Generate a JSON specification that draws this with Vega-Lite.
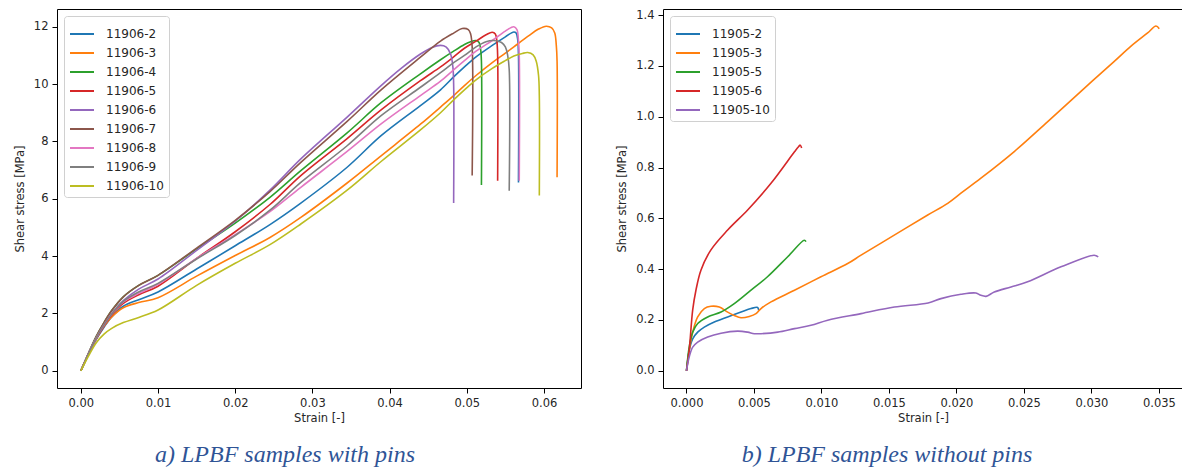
{
  "$schema": "https://vega.github.io/schema/vega-lite/v6.json",
  "padding": {"left": 13, "top": 8, "right": 0, "bottom": 0},
  "background": "white",
  "spacing": 82,
  "bounds": "flush",
  "datasets": {
    "left": [
      {"s":"11906-2","i":0,"x":0,"y":0},{"s":"11906-2","i":1,"x":0.001,"y":0.57},{"s":"11906-2","i":2,"x":0.002,"y":1.1},{"s":"11906-2","i":3,"x":0.003,"y":1.52},{"s":"11906-2","i":4,"x":0.004,"y":1.88},{"s":"11906-2","i":5,"x":0.0055,"y":2.25},{"s":"11906-2","i":6,"x":0.0075,"y":2.48},{"s":"11906-2","i":7,"x":0.01,"y":2.75},{"s":"11906-2","i":8,"x":0.015,"y":3.55},{"s":"11906-2","i":9,"x":0.02,"y":4.36},{"s":"11906-2","i":10,"x":0.0245,"y":5.1},{"s":"11906-2","i":11,"x":0.0285,"y":5.85},{"s":"11906-2","i":12,"x":0.0345,"y":7.1},{"s":"11906-2","i":13,"x":0.0389,"y":8.2},{"s":"11906-2","i":14,"x":0.044,"y":9.25},{"s":"11906-2","i":15,"x":0.0466,"y":9.8},{"s":"11906-2","i":16,"x":0.0483,"y":10.25},{"s":"11906-2","i":17,"x":0.0497,"y":10.6},{"s":"11906-2","i":18,"x":0.0512,"y":10.95},{"s":"11906-2","i":19,"x":0.0533,"y":11.35},{"s":"11906-2","i":20,"x":0.055,"y":11.65},{"s":"11906-2","i":21,"x":0.0561,"y":11.82},{"s":"11906-2","i":22,"x":0.0564,"y":11.78},{"s":"11906-2","i":23,"x":0.0566,"y":11.55},{"s":"11906-2","i":24,"x":0.0567,"y":11.0},{"s":"11906-2","i":25,"x":0.0567,"y":6.57},
      {"s":"11906-3","i":0,"x":0,"y":0},{"s":"11906-3","i":1,"x":0.001,"y":0.58},{"s":"11906-3","i":2,"x":0.002,"y":1.12},{"s":"11906-3","i":3,"x":0.003,"y":1.55},{"s":"11906-3","i":4,"x":0.004,"y":1.88},{"s":"11906-3","i":5,"x":0.0055,"y":2.2},{"s":"11906-3","i":6,"x":0.0075,"y":2.38},{"s":"11906-3","i":7,"x":0.01,"y":2.55},{"s":"11906-3","i":8,"x":0.015,"y":3.3},{"s":"11906-3","i":9,"x":0.02,"y":4.02},{"s":"11906-3","i":10,"x":0.0245,"y":4.65},{"s":"11906-3","i":11,"x":0.0285,"y":5.35},{"s":"11906-3","i":12,"x":0.0345,"y":6.55},{"s":"11906-3","i":13,"x":0.0389,"y":7.5},{"s":"11906-3","i":14,"x":0.044,"y":8.6},{"s":"11906-3","i":15,"x":0.0466,"y":9.2},{"s":"11906-3","i":16,"x":0.0483,"y":9.6},{"s":"11906-3","i":17,"x":0.0497,"y":9.95},{"s":"11906-3","i":18,"x":0.0512,"y":10.3},{"s":"11906-3","i":19,"x":0.0533,"y":10.75},{"s":"11906-3","i":20,"x":0.055,"y":11.08},{"s":"11906-3","i":21,"x":0.0561,"y":11.3},{"s":"11906-3","i":22,"x":0.058,"y":11.68},{"s":"11906-3","i":23,"x":0.0593,"y":11.92},{"s":"11906-3","i":24,"x":0.0603,"y":12.02},{"s":"11906-3","i":25,"x":0.061,"y":11.96},{"s":"11906-3","i":26,"x":0.0614,"y":11.78},{"s":"11906-3","i":27,"x":0.0616,"y":11.35},{"s":"11906-3","i":28,"x":0.0617,"y":10.8},{"s":"11906-3","i":29,"x":0.0617,"y":6.75},
      {"s":"11906-4","i":0,"x":0,"y":0},{"s":"11906-4","i":1,"x":0.001,"y":0.62},{"s":"11906-4","i":2,"x":0.002,"y":1.2},{"s":"11906-4","i":3,"x":0.003,"y":1.68},{"s":"11906-4","i":4,"x":0.004,"y":2.1},{"s":"11906-4","i":5,"x":0.0055,"y":2.58},{"s":"11906-4","i":6,"x":0.0075,"y":2.98},{"s":"11906-4","i":7,"x":0.01,"y":3.33},{"s":"11906-4","i":8,"x":0.015,"y":4.25},{"s":"11906-4","i":9,"x":0.02,"y":5.15},{"s":"11906-4","i":10,"x":0.0245,"y":6.05},{"s":"11906-4","i":11,"x":0.0285,"y":6.98},{"s":"11906-4","i":12,"x":0.0345,"y":8.3},{"s":"11906-4","i":13,"x":0.0389,"y":9.35},{"s":"11906-4","i":14,"x":0.044,"y":10.36},{"s":"11906-4","i":15,"x":0.0466,"y":10.85},{"s":"11906-4","i":16,"x":0.0483,"y":11.15},{"s":"11906-4","i":17,"x":0.0497,"y":11.38},{"s":"11906-4","i":18,"x":0.0505,"y":11.48},{"s":"11906-4","i":19,"x":0.0512,"y":11.52},{"s":"11906-4","i":20,"x":0.0516,"y":11.45},{"s":"11906-4","i":21,"x":0.0518,"y":11.2},{"s":"11906-4","i":22,"x":0.0519,"y":10.8},{"s":"11906-4","i":23,"x":0.0519,"y":6.48},
      {"s":"11906-5","i":0,"x":0,"y":0},{"s":"11906-5","i":1,"x":0.001,"y":0.58},{"s":"11906-5","i":2,"x":0.002,"y":1.12},{"s":"11906-5","i":3,"x":0.003,"y":1.57},{"s":"11906-5","i":4,"x":0.004,"y":1.95},{"s":"11906-5","i":5,"x":0.0055,"y":2.35},{"s":"11906-5","i":6,"x":0.0075,"y":2.65},{"s":"11906-5","i":7,"x":0.01,"y":2.95},{"s":"11906-5","i":8,"x":0.015,"y":3.92},{"s":"11906-5","i":9,"x":0.02,"y":4.85},{"s":"11906-5","i":10,"x":0.0245,"y":5.8},{"s":"11906-5","i":11,"x":0.0285,"y":6.81},{"s":"11906-5","i":12,"x":0.0345,"y":8.1},{"s":"11906-5","i":13,"x":0.0389,"y":9.1},{"s":"11906-5","i":14,"x":0.044,"y":10.12},{"s":"11906-5","i":15,"x":0.0466,"y":10.6},{"s":"11906-5","i":16,"x":0.0483,"y":10.95},{"s":"11906-5","i":17,"x":0.0497,"y":11.25},{"s":"11906-5","i":18,"x":0.0512,"y":11.5},{"s":"11906-5","i":19,"x":0.0525,"y":11.72},{"s":"11906-5","i":20,"x":0.0533,"y":11.81},{"s":"11906-5","i":21,"x":0.0537,"y":11.75},{"s":"11906-5","i":22,"x":0.0539,"y":11.5},{"s":"11906-5","i":23,"x":0.054,"y":11.0},{"s":"11906-5","i":24,"x":0.054,"y":6.63},
      {"s":"11906-6","i":0,"x":0,"y":0},{"s":"11906-6","i":1,"x":0.001,"y":0.6},{"s":"11906-6","i":2,"x":0.002,"y":1.15},{"s":"11906-6","i":3,"x":0.003,"y":1.6},{"s":"11906-6","i":4,"x":0.004,"y":2.0},{"s":"11906-6","i":5,"x":0.0055,"y":2.45},{"s":"11906-6","i":6,"x":0.0075,"y":2.85},{"s":"11906-6","i":7,"x":0.01,"y":3.2},{"s":"11906-6","i":8,"x":0.015,"y":4.2},{"s":"11906-6","i":9,"x":0.02,"y":5.22},{"s":"11906-6","i":10,"x":0.0245,"y":6.3},{"s":"11906-6","i":11,"x":0.0285,"y":7.39},{"s":"11906-6","i":12,"x":0.0345,"y":8.85},{"s":"11906-6","i":13,"x":0.0389,"y":9.95},{"s":"11906-6","i":14,"x":0.0415,"y":10.55},{"s":"11906-6","i":15,"x":0.044,"y":11.05},{"s":"11906-6","i":16,"x":0.0455,"y":11.28},{"s":"11906-6","i":17,"x":0.0466,"y":11.35},{"s":"11906-6","i":18,"x":0.0473,"y":11.3},{"s":"11906-6","i":19,"x":0.0479,"y":11.05},{"s":"11906-6","i":20,"x":0.0482,"y":10.6},{"s":"11906-6","i":21,"x":0.0483,"y":10.0},{"s":"11906-6","i":22,"x":0.0483,"y":5.85},
      {"s":"11906-7","i":0,"x":0,"y":0},{"s":"11906-7","i":1,"x":0.001,"y":0.62},{"s":"11906-7","i":2,"x":0.002,"y":1.2},{"s":"11906-7","i":3,"x":0.003,"y":1.68},{"s":"11906-7","i":4,"x":0.004,"y":2.1},{"s":"11906-7","i":5,"x":0.0055,"y":2.58},{"s":"11906-7","i":6,"x":0.0075,"y":2.98},{"s":"11906-7","i":7,"x":0.01,"y":3.33},{"s":"11906-7","i":8,"x":0.015,"y":4.28},{"s":"11906-7","i":9,"x":0.02,"y":5.25},{"s":"11906-7","i":10,"x":0.0245,"y":6.25},{"s":"11906-7","i":11,"x":0.0285,"y":7.27},{"s":"11906-7","i":12,"x":0.0345,"y":8.7},{"s":"11906-7","i":13,"x":0.0389,"y":9.8},{"s":"11906-7","i":14,"x":0.044,"y":10.94},{"s":"11906-7","i":15,"x":0.0466,"y":11.5},{"s":"11906-7","i":16,"x":0.0483,"y":11.78},{"s":"11906-7","i":17,"x":0.0494,"y":11.94},{"s":"11906-7","i":18,"x":0.0502,"y":11.9},{"s":"11906-7","i":19,"x":0.0505,"y":11.75},{"s":"11906-7","i":20,"x":0.0507,"y":11.3},{"s":"11906-7","i":21,"x":0.0507,"y":6.81},
      {"s":"11906-8","i":0,"x":0,"y":0},{"s":"11906-8","i":1,"x":0.001,"y":0.6},{"s":"11906-8","i":2,"x":0.002,"y":1.15},{"s":"11906-8","i":3,"x":0.003,"y":1.6},{"s":"11906-8","i":4,"x":0.004,"y":1.98},{"s":"11906-8","i":5,"x":0.0055,"y":2.4},{"s":"11906-8","i":6,"x":0.0075,"y":2.7},{"s":"11906-8","i":7,"x":0.01,"y":3.02},{"s":"11906-8","i":8,"x":0.015,"y":3.92},{"s":"11906-8","i":9,"x":0.02,"y":4.75},{"s":"11906-8","i":10,"x":0.0245,"y":5.55},{"s":"11906-8","i":11,"x":0.0285,"y":6.4},{"s":"11906-8","i":12,"x":0.0345,"y":7.65},{"s":"11906-8","i":13,"x":0.0389,"y":8.61},{"s":"11906-8","i":14,"x":0.044,"y":9.6},{"s":"11906-8","i":15,"x":0.0466,"y":10.1},{"s":"11906-8","i":16,"x":0.0483,"y":10.5},{"s":"11906-8","i":17,"x":0.0497,"y":10.82},{"s":"11906-8","i":18,"x":0.0512,"y":11.15},{"s":"11906-8","i":19,"x":0.0533,"y":11.52},{"s":"11906-8","i":20,"x":0.055,"y":11.85},{"s":"11906-8","i":21,"x":0.0561,"y":12.0},{"s":"11906-8","i":22,"x":0.0565,"y":11.9},{"s":"11906-8","i":23,"x":0.0567,"y":11.5},{"s":"11906-8","i":24,"x":0.0568,"y":11.0},{"s":"11906-8","i":25,"x":0.0568,"y":6.63},
      {"s":"11906-9","i":0,"x":0,"y":0},{"s":"11906-9","i":1,"x":0.001,"y":0.6},{"s":"11906-9","i":2,"x":0.002,"y":1.15},{"s":"11906-9","i":3,"x":0.003,"y":1.6},{"s":"11906-9","i":4,"x":0.004,"y":1.98},{"s":"11906-9","i":5,"x":0.0055,"y":2.42},{"s":"11906-9","i":6,"x":0.0075,"y":2.75},{"s":"11906-9","i":7,"x":0.01,"y":3.05},{"s":"11906-9","i":8,"x":0.015,"y":3.9},{"s":"11906-9","i":9,"x":0.02,"y":4.72},{"s":"11906-9","i":10,"x":0.0245,"y":5.6},{"s":"11906-9","i":11,"x":0.0285,"y":6.57},{"s":"11906-9","i":12,"x":0.0345,"y":7.85},{"s":"11906-9","i":13,"x":0.0389,"y":8.9},{"s":"11906-9","i":14,"x":0.044,"y":9.89},{"s":"11906-9","i":15,"x":0.0466,"y":10.4},{"s":"11906-9","i":16,"x":0.0483,"y":10.75},{"s":"11906-9","i":17,"x":0.0497,"y":11.0},{"s":"11906-9","i":18,"x":0.0512,"y":11.3},{"s":"11906-9","i":19,"x":0.0525,"y":11.48},{"s":"11906-9","i":20,"x":0.0535,"y":11.52},{"s":"11906-9","i":21,"x":0.0545,"y":11.45},{"s":"11906-9","i":22,"x":0.055,"y":11.3},{"s":"11906-9","i":23,"x":0.0553,"y":11.0},{"s":"11906-9","i":24,"x":0.0555,"y":10.5},{"s":"11906-9","i":25,"x":0.0555,"y":6.28},
      {"s":"11906-10","i":0,"x":0,"y":0},{"s":"11906-10","i":1,"x":0.001,"y":0.52},{"s":"11906-10","i":2,"x":0.002,"y":0.98},{"s":"11906-10","i":3,"x":0.003,"y":1.28},{"s":"11906-10","i":4,"x":0.004,"y":1.48},{"s":"11906-10","i":5,"x":0.0055,"y":1.68},{"s":"11906-10","i":6,"x":0.0075,"y":1.86},{"s":"11906-10","i":7,"x":0.01,"y":2.12},{"s":"11906-10","i":8,"x":0.015,"y":2.98},{"s":"11906-10","i":9,"x":0.02,"y":3.75},{"s":"11906-10","i":10,"x":0.0245,"y":4.4},{"s":"11906-10","i":11,"x":0.0285,"y":5.12},{"s":"11906-10","i":12,"x":0.0345,"y":6.3},{"s":"11906-10","i":13,"x":0.0389,"y":7.3},{"s":"11906-10","i":14,"x":0.044,"y":8.4},{"s":"11906-10","i":15,"x":0.0466,"y":9.0},{"s":"11906-10","i":16,"x":0.0483,"y":9.45},{"s":"11906-10","i":17,"x":0.0497,"y":9.8},{"s":"11906-10","i":18,"x":0.0512,"y":10.15},{"s":"11906-10","i":19,"x":0.0533,"y":10.55},{"s":"11906-10","i":20,"x":0.055,"y":10.82},{"s":"11906-10","i":21,"x":0.0561,"y":10.98},{"s":"11906-10","i":22,"x":0.0572,"y":11.07},{"s":"11906-10","i":23,"x":0.0579,"y":11.1},{"s":"11906-10","i":24,"x":0.0586,"y":11.02},{"s":"11906-10","i":25,"x":0.059,"y":10.8},{"s":"11906-10","i":26,"x":0.0593,"y":10.3},{"s":"11906-10","i":27,"x":0.0594,"y":9.6},{"s":"11906-10","i":28,"x":0.0594,"y":6.11}
    ],
    "right": [
      {"s":"11905-2","i":0,"x":0,"y":0},{"s":"11905-2","i":1,"x":0.0002,"y":0.08},{"s":"11905-2","i":2,"x":0.00046,"y":0.126},{"s":"11905-2","i":3,"x":0.00083,"y":0.152},{"s":"11905-2","i":4,"x":0.00132,"y":0.172},{"s":"11905-2","i":5,"x":0.00206,"y":0.192},{"s":"11905-2","i":6,"x":0.00305,"y":0.212},{"s":"11905-2","i":7,"x":0.00404,"y":0.231},{"s":"11905-2","i":8,"x":0.00478,"y":0.245},{"s":"11905-2","i":9,"x":0.00527,"y":0.249},{"s":"11905-2","i":10,"x":0.00535,"y":0.238},
      {"s":"11905-3","i":0,"x":0,"y":0},{"s":"11905-3","i":1,"x":0.0002,"y":0.08},{"s":"11905-3","i":2,"x":0.00046,"y":0.152},{"s":"11905-3","i":3,"x":0.00083,"y":0.212},{"s":"11905-3","i":4,"x":0.00132,"y":0.245},{"s":"11905-3","i":5,"x":0.00181,"y":0.254},{"s":"11905-3","i":6,"x":0.00243,"y":0.251},{"s":"11905-3","i":7,"x":0.00305,"y":0.231},{"s":"11905-3","i":8,"x":0.00354,"y":0.218},{"s":"11905-3","i":9,"x":0.00404,"y":0.209},{"s":"11905-3","i":10,"x":0.00465,"y":0.214},{"s":"11905-3","i":11,"x":0.00515,"y":0.225},{"s":"11905-3","i":12,"x":0.00552,"y":0.245},{"s":"11905-3","i":13,"x":0.00626,"y":0.271},{"s":"11905-3","i":14,"x":0.008,"y":0.317},{"s":"11905-3","i":15,"x":0.00996,"y":0.37},{"s":"11905-3","i":16,"x":0.01194,"y":0.422},{"s":"11905-3","i":17,"x":0.01293,"y":0.455},{"s":"11905-3","i":18,"x":0.01539,"y":0.534},{"s":"11905-3","i":19,"x":0.01787,"y":0.613},{"s":"11905-3","i":20,"x":0.01935,"y":0.659},{"s":"11905-3","i":21,"x":0.02033,"y":0.699},{"s":"11905-3","i":22,"x":0.02181,"y":0.758},{"s":"11905-3","i":23,"x":0.02428,"y":0.863},{"s":"11905-3","i":24,"x":0.02676,"y":0.981},{"s":"11905-3","i":25,"x":0.02922,"y":1.1},{"s":"11905-3","i":26,"x":0.03169,"y":1.218},{"s":"11905-3","i":27,"x":0.03293,"y":1.278},{"s":"11905-3","i":28,"x":0.03416,"y":1.33},{"s":"11905-3","i":29,"x":0.03478,"y":1.357},{"s":"11905-3","i":30,"x":0.03502,"y":1.346},
      {"s":"11905-5","i":0,"x":0,"y":0},{"s":"11905-5","i":1,"x":0.0002,"y":0.093},{"s":"11905-5","i":2,"x":0.00046,"y":0.152},{"s":"11905-5","i":3,"x":0.00083,"y":0.186},{"s":"11905-5","i":4,"x":0.00157,"y":0.212},{"s":"11905-5","i":5,"x":0.00256,"y":0.231},{"s":"11905-5","i":6,"x":0.00354,"y":0.264},{"s":"11905-5","i":7,"x":0.00478,"y":0.317},{"s":"11905-5","i":8,"x":0.006,"y":0.37},{"s":"11905-5","i":9,"x":0.0075,"y":0.449},{"s":"11905-5","i":10,"x":0.00873,"y":0.514},{"s":"11905-5","i":11,"x":0.00885,"y":0.508},
      {"s":"11905-6","i":0,"x":0,"y":0},{"s":"11905-6","i":1,"x":0.0002,"y":0.08},{"s":"11905-6","i":2,"x":0.00046,"y":0.24},{"s":"11905-6","i":3,"x":0.0007,"y":0.317},{"s":"11905-6","i":4,"x":0.00107,"y":0.396},{"s":"11905-6","i":5,"x":0.0018,"y":0.475},{"s":"11905-6","i":6,"x":0.00305,"y":0.554},{"s":"11905-6","i":7,"x":0.00453,"y":0.633},{"s":"11905-6","i":8,"x":0.00626,"y":0.738},{"s":"11905-6","i":9,"x":0.008,"y":0.862},{"s":"11905-6","i":10,"x":0.0083,"y":0.882},{"s":"11905-6","i":11,"x":0.00843,"y":0.888},{"s":"11905-6","i":12,"x":0.00853,"y":0.877},
      {"s":"11905-10","i":0,"x":0,"y":0},{"s":"11905-10","i":1,"x":0.0002,"y":0.054},{"s":"11905-10","i":2,"x":0.00046,"y":0.093},{"s":"11905-10","i":3,"x":0.00083,"y":0.113},{"s":"11905-10","i":4,"x":0.00157,"y":0.133},{"s":"11905-10","i":5,"x":0.00256,"y":0.148},{"s":"11905-10","i":6,"x":0.00379,"y":0.156},{"s":"11905-10","i":7,"x":0.00453,"y":0.152},{"s":"11905-10","i":8,"x":0.00502,"y":0.146},{"s":"11905-10","i":9,"x":0.00552,"y":0.146},{"s":"11905-10","i":10,"x":0.00676,"y":0.152},{"s":"11905-10","i":11,"x":0.008,"y":0.166},{"s":"11905-10","i":12,"x":0.00922,"y":0.179},{"s":"11905-10","i":13,"x":0.01046,"y":0.199},{"s":"11905-10","i":14,"x":0.01293,"y":0.225},{"s":"11905-10","i":15,"x":0.0154,"y":0.251},{"s":"11905-10","i":16,"x":0.0179,"y":0.267},{"s":"11905-10","i":17,"x":0.01885,"y":0.284},{"s":"11905-10","i":18,"x":0.02033,"y":0.301},{"s":"11905-10","i":19,"x":0.02144,"y":0.306},{"s":"11905-10","i":20,"x":0.02181,"y":0.297},{"s":"11905-10","i":21,"x":0.02219,"y":0.293},{"s":"11905-10","i":22,"x":0.0228,"y":0.31},{"s":"11905-10","i":23,"x":0.02404,"y":0.33},{"s":"11905-10","i":24,"x":0.02527,"y":0.35},{"s":"11905-10","i":25,"x":0.02774,"y":0.409},{"s":"11905-10","i":26,"x":0.0302,"y":0.455},{"s":"11905-10","i":27,"x":0.0305,"y":0.448}
    ]
  },
  "hconcat": [
    {
      "width": 524,
      "height": 379,
      "data": {"name": "left"},
      "title": {"text": "a) LPBF samples with pins", "orient": "bottom", "frame": "group", "anchor": "middle", "dx": -34, "offset": 19},
      "mark": {"type": "line", "strokeWidth": 1.6, "interpolate": "catmull-rom"},
      "encoding": {
        "x": {"field": "x", "type": "quantitative", "scale": {"domain": [-0.00309, 0.0648], "nice": false, "zero": false},
              "axis": {"title": "Strain [-]", "values": [0, 0.01, 0.02, 0.03, 0.04, 0.05, 0.06], "format": ".2f"}},
        "y": {"field": "y", "type": "quantitative", "scale": {"domain": [-0.601, 12.62], "nice": false, "zero": false},
              "axis": {"title": "Shear stress [MPa]", "values": [0, 2, 4, 6, 8, 10, 12], "format": "d"}},
        "color": {"field": "s", "type": "nominal",
                  "scale": {"domain": ["11906-2","11906-3","11906-4","11906-5","11906-6","11906-7","11906-8","11906-9","11906-10"],
                            "range": ["#1f77b4","#ff7f0e","#2ca02c","#d62728","#9467bd","#8c564b","#e377c2","#7f7f7f","#bcbd22"]},
                  "legend": {"title": null}},
        "order": {"field": "i", "type": "quantitative"}
      }
    },
    {
      "width": 520,
      "height": 379,
      "data": {"name": "right"},
      "title": {"text": "b) LPBF samples without pins", "orient": "bottom", "frame": "group", "anchor": "middle", "dx": -36, "offset": 19},
      "mark": {"type": "line", "strokeWidth": 1.6, "interpolate": "catmull-rom"},
      "encoding": {
        "x": {"field": "x", "type": "quantitative", "scale": {"domain": [-0.00174, 0.03678], "nice": false, "zero": false},
              "axis": {"title": "Strain [-]", "values": [0, 0.005, 0.01, 0.015, 0.02, 0.025, 0.03, 0.035], "format": ".3f"}},
        "y": {"field": "y", "type": "quantitative", "scale": {"domain": [-0.0678, 1.424], "nice": false, "zero": false},
              "axis": {"title": "Shear stress [MPa]", "values": [0, 0.2, 0.4, 0.6, 0.8, 1.0, 1.2, 1.4], "format": ".1f"}},
        "color": {"field": "s", "type": "nominal",
                  "scale": {"domain": ["11905-2","11905-3","11905-5","11905-6","11905-10"],
                            "range": ["#1f77b4","#ff7f0e","#2ca02c","#d62728","#9467bd"]},
                  "legend": {"title": null}},
        "order": {"field": "i", "type": "quantitative"}
      }
    }
  ],
  "resolve": {"scale": {"color": "independent"}, "legend": {"color": "independent"}},
  "config": {
    "font": "DejaVu Sans",
    "view": {"stroke": "#000000", "strokeWidth": 1},
    "axis": {
      "domain": false, "grid": false,
      "tickColor": "#000000", "tickSize": 5, "tickWidth": 1,
      "labelFont": "DejaVu Sans", "labelFontSize": 11.5, "labelColor": "#262626", "labelPadding": 4,
      "labelFlush": false, "labelOverlap": false,
      "titleFont": "DejaVu Sans", "titleFontSize": 11.5, "titleFontWeight": "normal", "titleColor": "#262626"
    },
    "axisX": {"titlePadding": 4},
    "axisY": {"titlePadding": 8},
    "legend": {
      "orient": "top-left", "offset": 7, "padding": 5,
      "strokeColor": "#d0d0d0", "fillColor": "rgba(255,255,255,0.85)", "cornerRadius": 3,
      "symbolType": "stroke", "symbolSize": 576, "symbolStrokeWidth": 2,
      "labelFont": "DejaVu Sans", "labelFontSize": 12, "labelColor": "#262626", "labelOffset": 11,
      "rowPadding": 0
    },
    "title": {"font": "Liberation Serif", "fontStyle": "italic", "fontWeight": "normal", "fontSize": 24, "color": "#2F5496"}
  }
}
